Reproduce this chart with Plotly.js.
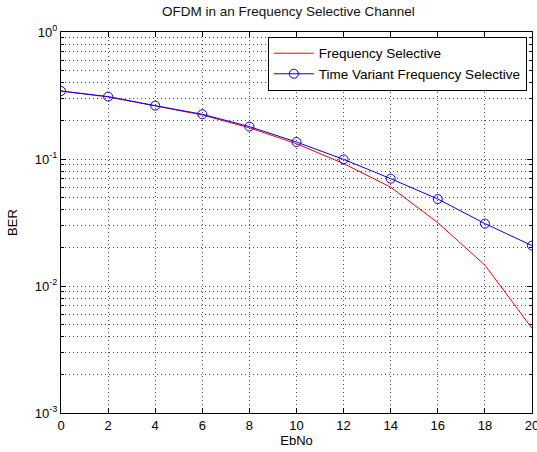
<!DOCTYPE html>
<html>
<head>
<meta charset="utf-8">
<script src="https://cdn.plot.ly/plotly-3.0.1.min.js"></script>
<style>html,body{margin:0;padding:0;background:#fff;}#chart{width:537px;height:452px;}</style>
</head>
<body>
<div id="chart"></div>
<script>
const ebno = [0, 2, 4, 6, 8, 10, 12, 14, 16, 18, 20];
const berFreqSel = [0.343, 0.308, 0.262, 0.222, 0.176, 0.132, 0.092, 0.060, 0.0315, 0.0146, 0.00464];
const berTimeVar = [0.343, 0.310, 0.263, 0.225, 0.180, 0.136, 0.0993, 0.070, 0.0484, 0.031, 0.0208];
const yTickVals = [0.001, 0.01, 0.1, 1];
const yTickText = ['10<sup>-3</sup>', '10<sup>-2</sup>', '10<sup>-1</sup>', '10<sup>0</sup>'];
const yMinorVals = [0.002,0.003,0.004,0.005,0.006,0.007,0.008,0.009,0.02,0.03,0.04,0.05,0.06,0.07,0.08,0.09,0.2,0.3,0.4,0.5,0.6,0.7,0.8,0.9];
const xTickVals = [0, 2, 4, 6, 8, 10, 12, 14, 16, 18, 20];

const fam = 'Liberation Sans, Arial, sans-serif';
const gridDash = '1px,3px';
const gridColor = '#444';

const traces = [
  {x: ebno, y: berFreqSel, type: 'scatter', mode: 'lines', name: 'Frequency Selective',
   line: {color: '#ff0000', width: 1}},
  {x: ebno, y: berTimeVar, type: 'scatter', mode: 'lines+markers', name: 'Time Variant Frequency Selective',
   line: {color: '#0000ff', width: 1},
   marker: {symbol: 'circle-open', size: 9, color: '#0000ff', line: {width: 1, color: '#0000ff'}}}
];

const layout = {
  width: 537, height: 452,
  margin: {l: 61, r: 5, t: 32, b: 39},
  paper_bgcolor: '#fff', plot_bgcolor: '#fff',
  font: {family: fam, size: 13, color: '#000'},
  title: {text: 'OFDM in an Frequency Selective Channel', font: {family: fam, size: 13.5, color: '#111'},
          x: 0.537, xanchor: 'center', y: 0.985, yanchor: 'top'},
  xaxis: {
    title: {text: 'EbNo', font: {family: fam, size: 13}, standoff: 1},
    range: [0, 20], tickvals: xTickVals, ticks: 'inside', ticklen: 5, tickcolor: '#000',
    showline: true, linecolor: '#000', linewidth: 1, mirror: 'ticks',
    showgrid: true, gridcolor: gridColor, griddash: gridDash, gridwidth: 1,
    zeroline: false, tickfont: {family: fam, size: 13}, ticklabeloverflow: 'allow'
  },
  yaxis: {
    title: {text: 'BER', font: {family: fam, size: 13}, standoff: 14},
    type: 'log', range: [-3, 0], tickvals: yTickVals, ticktext: yTickText,
    ticks: 'inside', ticklen: 5, tickcolor: '#000',
    showline: true, linecolor: '#000', linewidth: 1, mirror: 'ticks',
    showgrid: true, gridcolor: gridColor, griddash: gridDash, gridwidth: 1,
    zeroline: false, tickfont: {family: fam, size: 13}, ticklabeloverflow: 'allow',
    minor: {tickvals: yMinorVals, ticks: 'inside', ticklen: 3, tickcolor: '#000',
            showgrid: true, gridcolor: gridColor, griddash: gridDash, gridwidth: 1}
  },
  showlegend: true,
  legend: {x: 0.989, xanchor: 'right', y: 0.987, yanchor: 'top', bgcolor: '#fff',
           bordercolor: '#000', borderwidth: 1, font: {family: fam, size: 13.5},
           tracegroupgap: 0, itemwidth: 40}
};

Plotly.newPlot('chart', traces, layout, {displayModeBar: false, staticPlot: true});
</script>
</body>
</html>
